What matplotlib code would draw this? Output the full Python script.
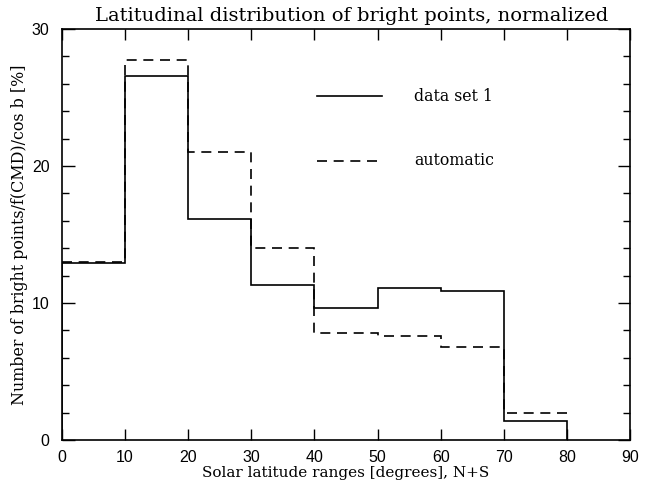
import matplotlib
matplotlib.use("Agg")
import matplotlib.pyplot as plt
import numpy as np
from matplotlib.ticker import MultipleLocator

# Latitude bin edges (degrees) and normalized counts (%)
lat_edges = [0, 10, 20, 30, 40, 50, 60, 70, 80]
data_set_1 = [12.9, 26.6, 16.1, 11.3, 9.6, 11.1, 10.9, 1.4]
automatic = [13.0, 27.7, 21.0, 14.0, 7.8, 7.6, 6.8, 2.0]

x_ticks = [0, 10, 20, 30, 40, 50, 60, 70, 80, 90]
y_ticks = [0, 10, 20, 30]

fig = plt.figure(figsize=(6.47, 4.87), dpi=100)
ax = fig.add_axes([0.0958, 0.0965, 0.8779, 0.844])

lw = 1.2
ax.stairs(data_set_1, lat_edges, baseline=0, color="black", linewidth=lw)
ax.stairs(automatic, lat_edges, baseline=None, color="black", linewidth=lw,
          linestyle=(0, (6, 4)))

# legend drawn in data coordinates
ax.plot([40.4, 50.7], [25.1, 25.1], color="black", linewidth=lw)
ax.plot([40.4, 50.7], [20.4, 20.4], color="black", linewidth=lw,
        linestyle=(0, (6, 4)))
serif = "DejaVu Serif"
ax.text(55.8, 25.1, "data set 1", family=serif, fontsize=11.3, va="center", ha="left")
ax.text(55.8, 20.4, "automatic", family=serif, fontsize=11.3, va="center", ha="left")

ax.set_xlim(0, 90)
ax.set_ylim(0, 30)
ax.set_xticks(x_ticks)
ax.set_yticks(y_ticks)
ax.yaxis.set_minor_locator(MultipleLocator(2))
ax.tick_params(which="both", direction="in", top=True, right=True, width=1.0)
ax.tick_params(axis="x", which="major", length=8, pad=7, labelsize=11.5)
ax.tick_params(axis="y", which="major", length=9, pad=9, labelsize=11.5)
ax.tick_params(axis="y", which="minor", length=5)
for lab in ax.get_xticklabels() + ax.get_yticklabels():
    lab.set_family("Liberation Sans")
for sp in ax.spines.values():
    sp.set_linewidth(1.2)

ax.set_title("Latitudinal distribution of bright points, normalized",
             family=serif, fontsize=14, pad=6, x=0.51)
ax.set_xlabel("Solar latitude ranges [degrees], N+S", family=serif, fontsize=11, labelpad=1)
ax.set_ylabel("Number of bright points/f(CMD)/cos b [%]", family=serif, fontsize=11.4, labelpad=3)

fig.savefig("out.png", dpi=100)
